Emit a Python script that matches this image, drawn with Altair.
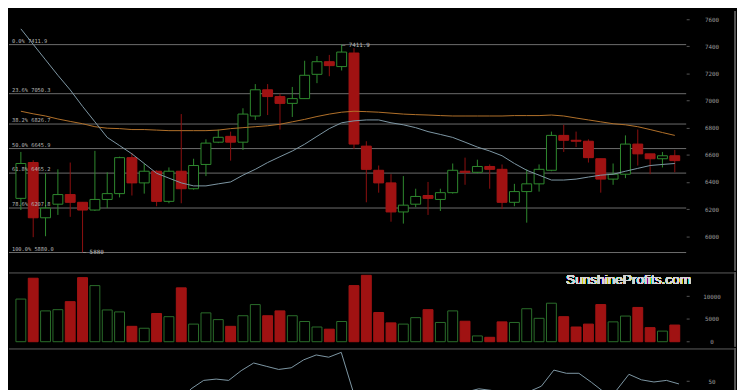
import altair as alt
import pandas as pd

# ---------------- data ----------------
opens = [6279, 6543, 6136, 6236, 6307, 6250, 6193, 6271, 6314, 6579,
         6393, 6479, 6257, 6479, 6350, 6529, 6693, 6736, 6693, 6886,
         7079, 7029, 6979, 7014, 7193, 7286, 7250, 7350, 6664, 6486,
         6393, 6179, 6236, 6300, 6271, 6321, 6479, 6471, 6514, 6493,
         6250, 6329, 6386, 6486, 6743, 6707, 6700, 6571, 6421, 6457,
         6679, 6607, 6571, 6593]
highs = [6621, 6560, 6464, 6493, 6543, 6250, 6629, 6471, 6586, 6614,
         6536, 6486, 6507, 6900, 6571, 6714, 6786, 6771, 6943, 7121,
         7121, 7050, 7100, 7293, 7328, 7336, 7411.9, 7386, 6700, 6521,
         6457, 6443, 6350, 6400, 6350, 6536, 6579, 6564, 6529, 6529,
         6386, 6493, 6529, 6771, 6821, 6771, 6714, 6571, 6536, 6743,
         6786, 6607, 6621, 6636]
lows = [6193, 5993, 6000, 6157, 6143, 5880, 6186, 6207, 6286, 6300,
        6314, 6221, 6243, 6243, 6343, 6443, 6686, 6557, 6636, 6857,
        6893, 6786, 6879, 7014, 7128, 7179, 7221, 6643, 6250, 6321,
        6107, 6093, 6214, 6157, 6186, 6314, 6379, 6464, 6350, 6200,
        6221, 6100, 6329, 6479, 6621, 6657, 6543, 6321, 6379, 6428,
        6521, 6457, 6507, 6471]
closes = [6536, 6136, 6207, 6307, 6250, 6193, 6271, 6314, 6579, 6393,
          6479, 6257, 6479, 6350, 6521, 6686, 6729, 6693, 6900, 7079,
          7029, 6979, 7014, 7186, 7286, 7257, 7357, 6679, 6493, 6393,
          6179, 6229, 6293, 6279, 6321, 6486, 6471, 6514, 6493, 6250,
          6329, 6386, 6493, 6743, 6707, 6700, 6579, 6421, 6457, 6679,
          6607, 6571, 6593, 6557]
volumes = [9370, 13950, 6770, 7040, 8800, 14080, 12330, 6980, 6550, 3380,
           2960, 6190, 5500, 11840, 3870, 6340, 4860, 3380, 5710, 8160,
           5710, 6770, 5710, 4440, 3230, 2750, 4440, 12330, 14590, 6410,
           4140, 3870, 5290, 7040, 4230, 6770, 4500, 1270, 970, 4360,
           4230, 7250, 5140, 8460, 5500, 3230, 3870, 8160, 4360, 5640,
           7530, 3090, 2330, 3660]
ma_short = [7528, 7414, 7300, 7186, 7078, 6957, 6843, 6728, 6668, 6607,
            6536, 6464, 6428, 6393, 6371, 6371, 6386, 6400, 6450, 6493,
            6543, 6586, 6628, 6678, 6736, 6793, 6836, 6850, 6857, 6857,
            6836, 6821, 6800, 6771, 6750, 6728, 6693, 6657, 6628, 6593,
            6536, 6486, 6450, 6414, 6414, 6421, 6436, 6450, 6457, 6479,
            6500, 6521, 6529, 6536]
ma_long = [6921, 6902, 6886, 6864, 6846, 6829, 6807, 6796, 6793, 6786,
           6786, 6782, 6778, 6778, 6778, 6778, 6782, 6793, 6800, 6807,
           6814, 6825, 6843, 6861, 6882, 6900, 6914, 6921, 6918, 6914,
           6907, 6900, 6896, 6893, 6889, 6886, 6886, 6886, 6886, 6886,
           6889, 6889, 6889, 6893, 6886, 6871, 6857, 6843, 6829, 6821,
           6807, 6786, 6764, 6743]
rsi_vals = [28, 24, 26, 27, 25, 22, 26, 27, 30, 27,
            29, 26, 29, 21, 39.3, 50.9, 52.7, 50.9, 64.3, 74.9,
            70.4, 66.0, 68.3, 79.3, 86.0, 82.9, 89.6, 32.7, 21, 20,
            15, 18, 22, 23, 26, 34.9, 34.9, 39.3, 37.1, 30,
            33.3, 35.3, 42.9, 65.1, 60.7, 60.7, 48.3, 34.9, 37.1, 59.3,
            51.7, 48.7, 50.9, 46.0]

fib_pcts = ["0.0%", "23.6%", "38.2%", "50.0%", "61.8%", "78.6%", "100.0%"]
fib_levels = [7411.9, 7050.3, 6826.7, 6645.9, 6465.2, 6207.8, 5880.0]
ann_labels = ["\u2013 7411.9", "\u2013 5880"]

price_ticks = [6000, 6200, 6400, 6600, 6800, 7000, 7200, 7400, 7600]
vol_ticks = [0, 5000, 10000]
rsi_ticks = [50]

# ---------------- tables ----------------
n = len(opens)
idx = list(range(1, n + 1))
dirs = ["up" if c >= o else "down" for o, c in zip(opens, closes)]
df = pd.DataFrame(dict(i=idx, open=opens, high=highs, low=lows, close=closes,
                       vol=volumes, ma_s=ma_short, ma_l=ma_long, rsi=rsi_vals,
                       dir=dirs))
fib_df = pd.DataFrame(dict(level=fib_levels,
                           label=[f"{p} {v:.1f}" for p, v in zip(fib_pcts, fib_levels)]))
hi_i = highs.index(max(highs)) + 1
lo_i = lows.index(min(lows)) + 1
ann_df = pd.DataFrame(dict(i=[hi_i, lo_i], price=[max(highs), min(lows)], label=ann_labels))

# ---------------- layout (fits 737x382 inside the 8px page margin) ----------------
SX = 737 / 745
SY = 382 / 390
W = round(744 * SX)          # plot width (whole chart width)
STEP = 12.8 * SX             # pixels per candle
X0 = 0.4375
X1 = X0 + W / STEP
H1, H2, H3 = 262, 75, 45
FIB_END = 693 * SX
BG = "#000000"
MONO = "DejaVu Sans Mono"
FS = 6 * SX

xsc = alt.Scale(domain=[X0, X1], nice=False, zero=False)
X = alt.X("i:Q", scale=xsc, axis=None)


def yaxis(values, fmt="d"):
    return alt.Axis(orient="right", offset=-(W - FIB_END), domain=False, grid=False,
                    ticks=True, tickSize=3, tickColor="#555555", tickWidth=1,
                    labelColor="#9a9a9a", labelFont=MONO, labelFontSize=FS,
                    labelAlign="center", labelBaseline="middle", labelPadding=22.7,
                    values=values, format=fmt, title=None)


dir_dom = ["up", "down"]

# ---------- main price panel ----------
psc = alt.Scale(domain=[5750, 7657], nice=False, zero=False)
PY = lambda f: alt.Y(f, scale=psc, axis=yaxis(price_ticks))
base = alt.Chart(df)

fib_rules = alt.Chart(fib_df).mark_rule(color="#6e6e6e", strokeWidth=1).encode(
    y=PY("level:Q"), x=alt.value(0), x2=alt.value(FIB_END))
fib_text = alt.Chart(fib_df).mark_text(
    align="left", baseline="bottom", dx=3, dy=-1, font=MONO, fontSize=5.4,
    color="#b4b4b4").encode(x=alt.value(0), y=PY("level:Q"), text="label:N")
wicks = base.mark_rule(strokeWidth=1).encode(
    x=X, y=PY("low:Q"), y2="high:Q",
    color=alt.Color("dir:N", scale=alt.Scale(domain=dir_dom, range=["#2f8a2f", "#8e1010"]),
                    legend=None))
bodies = base.mark_bar(size=10, strokeWidth=1).encode(
    x=X, y=PY("open:Q"), y2="close:Q",
    fill=alt.Fill("dir:N", scale=alt.Scale(domain=dir_dom, range=[BG, "#a01212"]), legend=None),
    stroke=alt.Stroke("dir:N", scale=alt.Scale(domain=dir_dom, range=["#2f8a2f", "#a51414"]),
                      legend=None))
ma_l_line = base.mark_line(color="#b3722b", strokeWidth=1, clip=True).encode(x=X, y=PY("ma_l:Q"))
ma_s_line = base.mark_line(color="#7f98a6", strokeWidth=1, clip=True).encode(x=X, y=PY("ma_s:Q"))
ann = alt.Chart(ann_df).mark_text(align="left", baseline="middle", font=MONO, fontSize=FS,
                                  color="#bdbdbd").encode(
    x=alt.X("i:Q", scale=xsc, axis=None), y=PY("price:Q"), text="label:N")
border1 = base.mark_rule(color="#555555", strokeWidth=1).encode(
    x=alt.value(W - 1), y=alt.value(0), y2=alt.value(H1))

main = alt.layer(fib_rules, wicks, bodies, ma_l_line, ma_s_line, fib_text, ann, border1).properties(
    width=W, height=H1)

# ---------- volume panel ----------
vsc = alt.Scale(domain=[-990, 15290], nice=False, zero=True)
vbars = base.mark_bar(size=10, strokeWidth=1).encode(
    x=X, y=alt.Y("vol:Q", scale=vsc, axis=yaxis(vol_ticks)),
    fill=alt.Fill("dir:N", scale=alt.Scale(domain=dir_dom, range=[BG, "#a01212"]), legend=None),
    stroke=alt.Stroke("dir:N", scale=alt.Scale(domain=dir_dom, range=["#2b6e2b", "#a51414"]),
                      legend=None))
sep2 = base.mark_rule(color="#333333", strokeWidth=1).encode(
    y=alt.value(0.5), x=alt.value(0), x2=alt.value(W))
border2 = base.mark_rule(color="#555555", strokeWidth=1).encode(
    x=alt.value(W - 1), y=alt.value(0), y2=alt.value(H2))
wm = base.mark_text(text="SunshineProfits.com", font="Liberation Sans", fontSize=13.8,
                    color="#d6d6d6", align="center", baseline="middle").encode(
    x=alt.value(634 * SX), y=alt.value(8 * SY))
vol = alt.layer(vbars, sep2, border2, wm).properties(width=W, height=H2)

# ---------- RSI panel ----------
rsc = alt.Scale(domain=[34, 95.33], nice=False, zero=False)
rline = base.mark_line(color="#7f98a6", strokeWidth=1, clip=True).encode(
    x=X, y=alt.Y("rsi:Q", scale=rsc, axis=yaxis(rsi_ticks)))
sep3 = base.mark_rule(color="#333333", strokeWidth=1).encode(
    y=alt.value(0.5), x=alt.value(0), x2=alt.value(W))
border3 = base.mark_rule(color="#555555", strokeWidth=1).encode(
    x=alt.value(W - 1), y=alt.value(0), y2=alt.value(H3))
rsi = alt.layer(rline, sep3, border3).properties(width=W, height=H3)

chart = alt.vconcat(main, vol, rsi, spacing=0).resolve_scale(
    x="independent", y="independent", color="independent",
    fill="independent", stroke="independent").properties(
    background=BG, padding=0).configure_view(stroke=None)

chart.save("out.html", embed_options={"renderer": "svg", "actions": False})
